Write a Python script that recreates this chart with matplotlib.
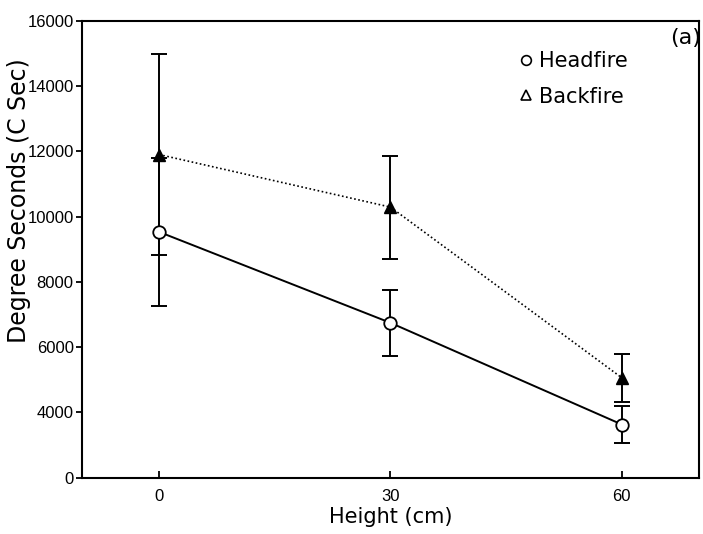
import matplotlib.pyplot as plt
from matplotlib.lines import Line2D

# values (y in plot units; the bottom tick is labelled "0")
heights = [0, 30, 60]
headfire = [9530, 6745, 3630]
headfire_err = [2270, 1015, 555]
backfire = [11900, 10290, 5060]
backfire_err = [3075, 1580, 735]

x_ticks = [0, 30, 60]
y_ticks = [2000, 4000, 6000, 8000, 10000, 12000, 14000, 16000]
y_tick_labels = ['0', '4000', '6000', '8000', '10000', '12000', '14000', '16000']

fig = plt.figure(figsize=(7.03, 5.34), dpi=100)
ax = fig.add_axes([0.1166, 0.1054, 0.8777, 0.8558])

# headfire: solid line, open circles
ax.plot(heights, headfire, color='black', linewidth=1.4, zorder=2)
ax.errorbar(heights, headfire, yerr=headfire_err, fmt='none', ecolor='black',
            elinewidth=1.4, capsize=6, capthick=1.4, zorder=3)
ax.plot(heights, headfire, linestyle='none', marker='o', markersize=9,
        markerfacecolor='white', markeredgecolor='black', markeredgewidth=1.3, zorder=4)

# backfire: dotted line, triangles
ax.plot(heights, backfire, color='black', linewidth=1.2, linestyle=(0, (1, 1.5)), zorder=2)
ax.errorbar(heights, backfire, yerr=backfire_err, fmt='none', ecolor='black',
            elinewidth=1.4, capsize=6, capthick=1.4, zorder=3)
ax.plot(heights, backfire, linestyle='none', marker='^', markersize=8,
        markerfacecolor='black', markeredgecolor='black', zorder=4)

ax.set_xlim(-10, 70)
ax.set_ylim(2000, 16000)
ax.set_xticks(x_ticks)
ax.set_xticklabels([str(v) for v in x_ticks], fontfamily='Liberation Sans', fontsize=12)
ax.set_yticks(y_ticks)
ax.set_yticklabels(y_tick_labels, fontfamily='Liberation Sans', fontsize=12)
ax.tick_params(axis='x', direction='in', length=5, width=1.3, pad=8)
ax.tick_params(axis='y', direction='out', length=4, width=1.3, pad=2)

for s in ax.spines.values():
    s.set_linewidth(1.5)

ax.set_xlabel('Height (cm)', fontsize=15, labelpad=2)
fig.text(0.027, 0.625, 'Degree Seconds (C Sec)', rotation=90, fontsize=17,
         ha='center', va='center')

# legend drawn by hand like the original
handles = [
    Line2D([], [], linestyle='none', marker='o', markersize=7,
           markerfacecolor='white', markeredgecolor='black', markeredgewidth=1.2),
    Line2D([], [], linestyle='none', marker='^', markersize=7,
           markerfacecolor='white', markeredgecolor='black', markeredgewidth=1.2),
]
ax.legend(handles, ['Headfire', 'Backfire'], loc='upper right',
          bbox_to_anchor=(0.915, 0.975), frameon=False, fontsize=15,
          handletextpad=0.15, labelspacing=0.75, handlelength=1.0)

ax.text(1.004, 0.962, '(a)', transform=ax.transAxes, fontsize=16,
        ha='right', va='center')

fig.savefig('out.png', dpi=100)
